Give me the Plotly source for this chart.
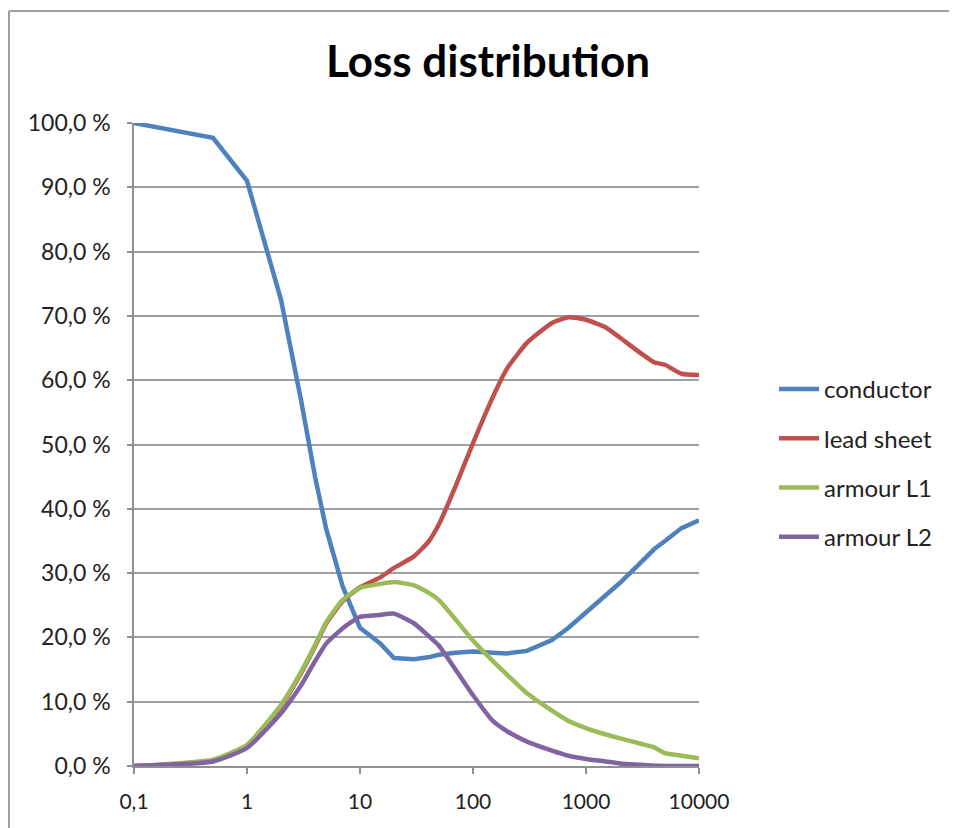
import plotly.graph_objects as go

freq = [0.1, 0.5, 1, 2, 3, 4, 5, 7, 10, 15, 20, 30, 40, 50, 70, 100, 150, 200,
        300, 500, 700, 1000, 1500, 2000, 3000, 4000, 5000, 7000, 10000]

conductor = [100, 97.7, 91.0, 72.5, 57.0, 45.0, 37.0, 28.0, 21.5, 19.1, 16.8, 16.6, 16.9,
             17.3, 17.6, 17.8, 17.6, 17.5, 17.9, 19.6, 21.5, 23.8, 26.5, 28.5, 31.5,
             33.7, 35.0, 37.0, 38.2]
lead_sheet = [0.0, 0.8, 3.1, 9.3, 14.4, 18.6, 22.1, 25.6, 27.8, 29.3, 30.8, 32.6, 34.8,
              37.6, 43.5, 50.2, 57.4, 61.8, 65.8, 68.9, 69.8, 69.4, 68.2, 66.6, 64.3,
              62.8, 62.4, 61.0, 60.8]
armour_l1 = [0.0, 1.0, 3.3, 9.5, 14.6, 18.8, 22.3, 25.8, 27.7, 28.3, 28.6, 28.1, 27.0,
             25.8, 22.8, 19.5, 16.3, 14.2, 11.3, 8.6, 7.0, 5.9, 4.9, 4.3, 3.5, 2.9,
             2.0, 1.6, 1.2]
armour_l2 = [0.0, 0.7, 2.8, 8.2, 12.5, 16.3, 19.0, 21.4, 23.2, 23.5, 23.7, 22.2, 20.3,
             18.7, 15.0, 11.0, 7.0, 5.4, 3.8, 2.4, 1.6, 1.1, 0.7, 0.4, 0.2, 0.05,
             0.0, 0.0, 0.0]

series_names = ["conductor", "lead sheet", "armour L1", "armour L2"]
series_colors = ["#4F81BD", "#C0504D", "#9BBB59", "#8064A2"]
series_shapes = ["linear", "spline", "spline", "spline"]

x_tickvals = [0.1, 1, 10, 100, 1000, 10000]
x_ticktext = ["0,1", "1", "10", "100", "1000", "10000"]
y_tickvals = [0, 10, 20, 30, 40, 50, 60, 70, 80, 90, 100]
y_ticktext = ["0,0 %", "10,0 %", "20,0 %", "30,0 %", "40,0 %", "50,0 %",
              "60,0 %", "70,0 %", "80,0 %", "90,0 %", "100,0 %"]

OFF = 8  # page body margin
W, H = 957 - OFF, 828 - OFF
# target plot area in page pixels: x 134..699, y 123..766
L = 134 - OFF
T = 123 - OFF
R = W - (699 - OFF)
B = H - (766 - OFF)
pw, ph = W - L - R, H - T - B


def px_x(p):
    return (p - OFF - L) / pw


def px_y(p):
    return (H - B - (p - OFF)) / ph


fig = go.Figure()
for name, vals, col, shp in zip(series_names,
                                [conductor, lead_sheet, armour_l1, armour_l2],
                                series_colors, series_shapes):
    fig.add_trace(go.Scatter(x=freq, y=vals, mode="lines", name=name,
                             legendgroup=name,
                             line=dict(color=col, width=4.5, shape=shp,
                                       smoothing=0.5 if shp == "spline" else None)))

font_family = "Lato, 'Open Sans', sans-serif"

# outer chart border: top and left edges visible in the reference
border = dict(color="#A0A0A0", width=2)
fig.add_shape(type="line", xref="paper", yref="paper",
              x0=px_x(9), x1=px_x(1000), y0=px_y(11), y1=px_y(11), line=border)
fig.add_shape(type="line", xref="paper", yref="paper",
              x0=px_x(9), x1=px_x(9), y0=px_y(11), y1=px_y(900), line=border)

fig.update_layout(
    width=W, height=H,
    margin=dict(l=L, r=R, t=T, b=B, autoexpand=False),
    paper_bgcolor="white", plot_bgcolor="white",
    title=dict(text="<b>Loss distribution</b>", x=(488 - OFF) / W, xanchor="center",
               y=1 - (62 - OFF) / H, yanchor="middle",
               font=dict(family=font_family, size=44, color="black")),
    font=dict(family=font_family, size=21, color="#222222"),
    showlegend=True,
    legend=dict(x=px_x(774), xanchor="left", y=px_y(463), yanchor="middle",
                font=dict(family=font_family, size=24, color="#222222"),
                tracegroupgap=15, itemwidth=40, bgcolor="rgba(0,0,0,0)"),
    xaxis=dict(type="log", range=[-1, 4], tickvals=x_tickvals, ticktext=x_ticktext,
               showgrid=False, showline=True, linecolor="#909090", linewidth=1.5,
               ticks="outside", ticklen=6, tickcolor="#909090", tickwidth=1.5,
               ticklabelstandoff=10, automargin=False,
               tickfont=dict(size=21, color="#222222"), zeroline=False),
    yaxis=dict(range=[0, 100], tickvals=y_tickvals, ticktext=y_ticktext,
               showgrid=True, gridcolor="#A0A0A0", gridwidth=1.5,
               showline=True, linecolor="#909090", linewidth=1.5,
               ticks="outside", ticklen=5, tickcolor="#909090", tickwidth=1.5,
               ticklabelstandoff=12, automargin=False,
               tickfont=dict(size=23, color="#222222"), zeroline=False),
)

fig.write_html("out.html")
